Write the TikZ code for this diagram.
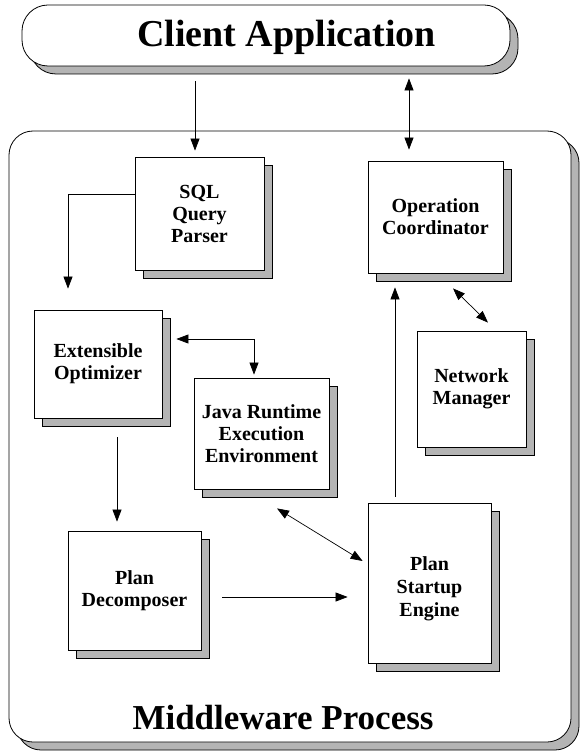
\documentclass[tikz,border=0pt]{standalone}
\usepackage{fontspec}
\setmainfont{Liberation Serif}
\usetikzlibrary{arrows.meta,shadows}

\definecolor{shadowgray}{RGB}{180,180,180}

\tikzset{
  shadowed/.style={
    general shadow={shadow xshift=8pt, shadow yshift=-8pt,
      fill=shadowgray, draw=black, line width=0.8pt}},
  modtext/.style={align=center, inner sep=0pt,
    font=\bfseries\fontsize{20}{22}\selectfont},
  module/.style={draw=black, fill=white, line width=0.8pt, shadowed,
    modtext},
  bigbox/.style={draw=black, fill=white, line width=0.8pt, shadowed,
    inner sep=0pt},
  title/.style={anchor=base, inner sep=0pt},
  tip/.style={},
  arr/.style={line width=0.7pt, -{Triangle[length=12pt,width=9pt]}},
  biarr/.style={line width=0.7pt,
    {Triangle[length=12pt,width=9pt]}-{Triangle[length=12pt,width=9pt]}}
}

\begin{document}
\begin{tikzpicture}[x=1pt,y=-1pt]
\path[use as bounding box, fill=white] (0,0) rectangle (582,751);

% containers
\node[bigbox, rounded corners=24pt, minimum width=562pt, minimum height=611pt]
  (mw) at (290,436.5) {};
\node[bigbox, rounded corners=26pt, minimum width=488pt, minimum height=61pt]
  (client) at (266,35.5) {};
\node[title, font=\bfseries\fontsize{38}{42}\selectfont]
  (clienttxt) at (286.5,47) {Client Application};
\node[title, font=\bfseries\fontsize{35}{40}\selectfont]
  (mwtxt) at (283,729) {Middleware Process};

% modules
\node[module, minimum width=129pt, minimum height=113pt]
  (parser) at (199.5,213.5) {SQL\\Query\\Parser};
\node[module, minimum width=135pt, minimum height=112pt]
  (opcoord) at (435.5,217) {Operation\\Coordinator};
\node[module, minimum width=128pt, minimum height=108pt]
  (optim) at (98,364) {Extensible\\Optimizer};
\node[module, minimum width=135pt, minimum height=111pt]
  (java) at (261.5,433.5) {Java Runtime\\Execution\\Environment};
\node[module, minimum width=109pt, minimum height=116pt]
  (netman) at (471.5,389) {Network\\Manager};
\node[module, minimum width=133pt, minimum height=119pt]
  (decomp) at (134.5,590.5) {Plan\\Decomposer};
\node[module, minimum width=123pt, minimum height=160pt]
  (startup) at (429.5,583) {};
\node[modtext, font=\bfseries\fontsize{20}{23}\selectfont]
  (startuptxt) at (429.5,589) {Plan\\Startup\\Engine};

% connectors
\draw[arr, shorten <=15pt, shorten >=6pt]
  ([xshift=-4.5pt]parser.north |- client.south) -- ([xshift=-4.5pt]parser.north);
\draw[biarr, shorten <=12pt, shorten >=11pt]
  ([xshift=-26.5pt]opcoord.north |- client.south) -- ([xshift=-26.5pt]opcoord.north);
\draw[arr, shorten >=21pt]
  ([yshift=19.5pt]parser.west) -| ([xshift=-30pt]optim.north);
\draw[biarr, shorten <=14pt, shorten >=3pt]
  ([yshift=25pt]optim.east) -| ([xshift=-7.5pt]java.north);
\draw[arr, shorten <=19pt, shorten >=9pt]
  ([xshift=19pt]optim.south) -- ([xshift=19pt]optim.south |- decomp.north);
\draw[arr, shorten <=21pt, shorten >=20pt]
  ([yshift=-6.5pt]decomp.east) -- ([yshift=-6.5pt]decomp.east -| startup.west);
\draw[biarr]
  ([shift={(15.5pt,-19pt)}]java.south) -- ([shift={(-5pt,22pt)}]startup.west);
\draw[arr, shorten <=6pt, shorten >=14pt]
  ([xshift=-34.5pt]startup.north) -- ([xshift=-34.5pt]startup.north |- opcoord.south);
\draw[biarr]
  ([shift={(17.5pt,-15pt)}]opcoord.south) -- ([shift={(16.5pt,8pt)}]netman.north);
\end{tikzpicture}
\end{document}
